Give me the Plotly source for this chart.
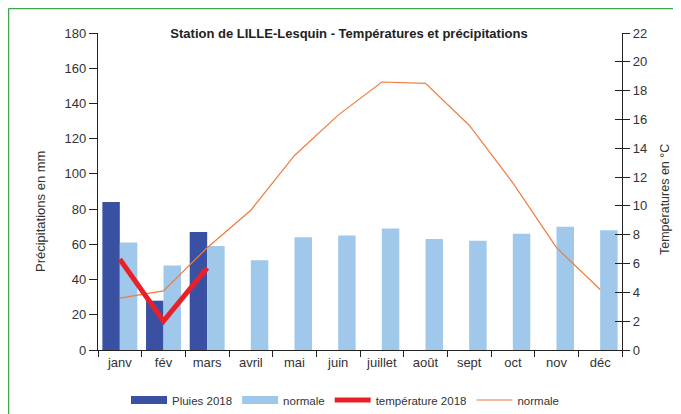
import plotly.graph_objects as go

months = ["janv", "fév", "mars", "avril", "mai", "juin", "juillet", "août", "sept", "oct", "nov", "déc"]
pluies_2018 = [84, 28, 67, None, None, None, None, None, None, None, None, None]
pluies_normale = [61, 48, 59, 51, 64, 65, 69, 63, 62, 66, 70, 68]
temp_2018 = [6.3, 2.0, 5.7]
temp_normale = [3.6, 4.1, 7.1, 9.7, 13.5, 16.3, 18.6, 18.5, 15.6, 11.6, 7.1, 4.2]

DARK = "#3a51a3"
LIGHT = "#9fc8ea"
RED = "#e8202a"
ORANGE = "#f07b3f"
FONT = "Liberation Sans, Arial, sans-serif"
TXT = "#333333"
AX = "#222222"
GREEN = "#3aa84b"

fig = go.Figure()
fig.add_trace(go.Bar(x=months, y=pluies_2018, name="Pluies 2018", marker_color=DARK,
                     marker_line_width=0, showlegend=False))
fig.add_trace(go.Bar(x=months, y=pluies_normale, name="normale", marker_color=LIGHT,
                     marker_line_width=0, showlegend=False))
fig.add_trace(go.Scatter(x=months, y=temp_normale, name="normale_t", yaxis="y2",
                         mode="lines", line=dict(color=ORANGE, width=1.2), showlegend=False))
fig.add_trace(go.Scatter(x=months[:3], y=temp_2018, name="température 2018", yaxis="y2",
                         mode="lines", line=dict(color=RED, width=5), showlegend=False))

# legend entries
for name, color, w in [("Pluies 2018", DARK, 8), ("normale", LIGHT, 8),
                       ("température 2018", RED, 5), ("normale", ORANGE, 1.2)]:
    fig.add_trace(go.Scatter(x=[None], y=[None], mode="lines", name=name,
                             line=dict(color=color, width=w), showlegend=True))
fig.add_trace(go.Scatter(x=[None], y=[None], yaxis="y3", showlegend=False))

OFF = 8  # page body margin
W, H = 681, 414
PW, PH = 524, 317
L, T = 98 - OFF, 33 - OFF

def px(x):  # reference pixel x -> paper
    return (x - OFF - L) / PW

def py(y):
    return (T + PH - (y - OFF)) / PH

fig.update_layout(
    template="none",
    width=W, height=H,
    margin=dict(l=L, r=W - L - PW, t=T, b=H - T - PH, pad=0, autoexpand=False),
    paper_bgcolor="white", plot_bgcolor="white",
    font=dict(family=FONT, size=13, color=TXT),
    barmode="group", bargap=0.2, bargroupgap=0,
    title=dict(text="<b>Station de LILLE-Lesquin - Températures et précipitations</b>",
               x=(349 - OFF) / W, xanchor="center", y=1 - (33 - OFF) / H, yanchor="middle",
               font=dict(size=13, color="#222222")),
    xaxis=dict(type="category", tickson="boundaries", ticks="outside", ticklen=6,
               tickcolor=AX, tickwidth=1.3, showline=True, linecolor=AX, linewidth=1.3,
               showgrid=False, zeroline=False, tickfont=dict(size=13, color=TXT),
               range=[-0.5, 11.5], automargin=False),
    yaxis=dict(range=[0, 180], dtick=20, ticks="outside", ticklen=8, tickcolor=AX,
               tickwidth=1.3, showline=True, linecolor=AX, linewidth=1.3, showgrid=False,
               zeroline=False, tickfont=dict(size=13, color=TXT), automargin=False),
    yaxis2=dict(range=[0, 22], dtick=2, overlaying="y", side="right", anchor="x",
                ticks="outside", ticklen=7, tickcolor=AX, tickwidth=1.3, showline=True,
                linecolor=AX, linewidth=1.3, showgrid=False, zeroline=False,
                tickfont=dict(size=13, color=TXT), automargin=False),
    yaxis3=dict(range=[0, 22], dtick=2, overlaying="y", side="right", anchor="x",
                ticks="inside", ticklen=7, tickcolor=AX, tickwidth=1.3, showline=False,
                showticklabels=False, showgrid=False, zeroline=False, automargin=False),
    legend=dict(orientation="h", x=px(126), xanchor="left",
                y=py(400), yanchor="middle",
                font=dict(size=11.5, color=TXT), itemwidth=36,
                bgcolor="rgba(0,0,0,0)", tracegroupgap=0),
    annotations=[
        dict(text="Précipitations en mm", textangle=-90, xref="paper", yref="paper",
             x=px(40), y=py(212), xanchor="center", yanchor="middle",
             showarrow=False, font=dict(size=13, color=TXT)),
        dict(text="Températures en °C", textangle=-90, xref="paper", yref="paper",
             x=px(665), y=py(200), xanchor="center", yanchor="middle",
             showarrow=False, font=dict(size=12.5, color=TXT)),
    ],
    shapes=[
        dict(type="line", xref="paper", yref="paper",
             x0=px(8.5), x1=px(8.5), y0=py(430), y1=py(8.5),
             line=dict(color=GREEN, width=1.5), layer="below"),
        dict(type="line", xref="paper", yref="paper",
             x0=px(8.5), x1=px(700), y0=py(8.5), y1=py(8.5),
             line=dict(color=GREEN, width=1.5), layer="below"),
    ],
)

fig.write_html("out.html")
